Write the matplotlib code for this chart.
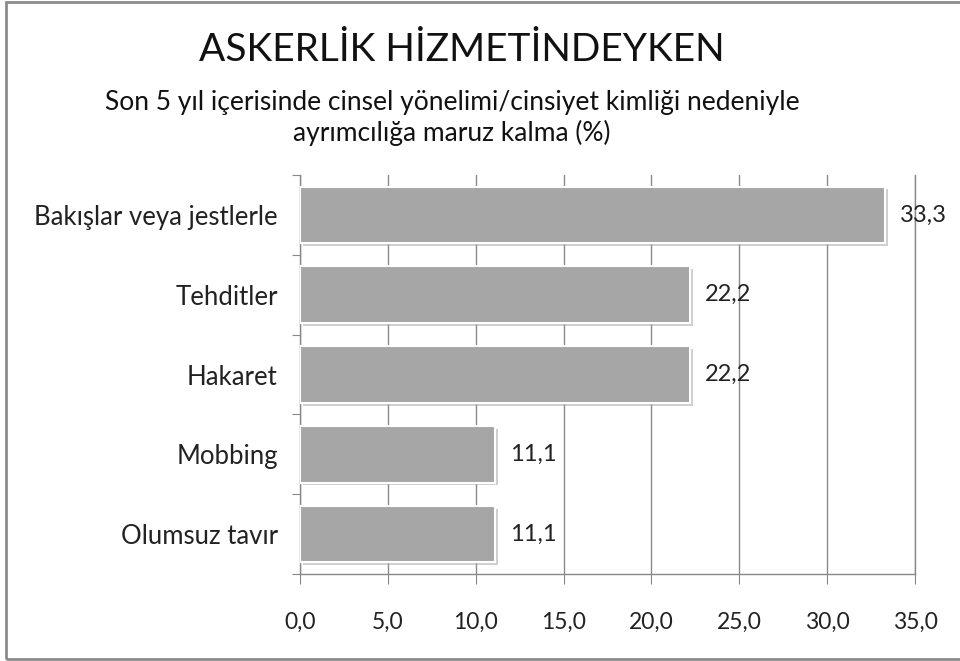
import matplotlib.pyplot as plt
import matplotlib.patheffects as pe
from matplotlib.patches import Rectangle

# data
categories = ['Bakışlar veya jestlerle', 'Tehditler', 'Hakaret', 'Mobbing', 'Olumsuz tavır']
values = [33.3, 22.2, 22.2, 11.1, 11.1]
xticks = [0, 5, 10, 15, 20, 25, 30, 35]

title = 'ASKERLİK HİZMETİNDEYKEN'
subtitle = 'Son 5 yıl içerisinde cinsel yönelimi/cinsiyet kimliği nedeniyle\nayrımcılığa maruz kalma (%)'

plt.rcParams['font.family'] = ['Lato', 'DejaVu Sans']

fig = plt.figure(figsize=(9.6, 6.61), dpi=100)
ax = fig.add_axes([0.3125, 0.1316, 0.6406, 0.6036])

# outer frame
fig.patches.append(Rectangle((6 / 960, 2 / 661), 1.0, 657 / 661, transform=fig.transFigure,
                             fill=False, edgecolor='#8c8c8c', linewidth=2, clip_on=False))

ypos = list(range(len(categories)))
bars = ax.barh(ypos, values, height=0.71, color='#a6a6a6', edgecolor='white', linewidth=1.5, zorder=3)
for b in bars:
    b.set_path_effects([pe.SimplePatchShadow(offset=(2, -2), shadow_rgbFace='#b0b0b0', alpha=0.6), pe.Normal()])

for y, v in zip(ypos, values):
    ax.text(v + 0.85, y, f'{v:.1f}'.replace('.', ','), va='center', ha='left', fontsize=17,
            color='#222222', zorder=4)

ax.set_ylim(len(categories) - 0.5, -0.5)
ax.set_xlim(0, 35)
ax.set_xticks(xticks)
ax.set_xticklabels([f'{t:.1f}'.replace('.', ',') for t in xticks], fontsize=16.5, color='#222222')

# y ticks at category boundaries, labels centred
ax.set_yticks([i - 0.5 for i in range(len(categories) + 1)])
ax.set_yticklabels([])
ax.set_yticks(ypos, minor=True)
ax.set_yticklabels(categories, minor=True, fontsize=18.5, color='#222222')
ax.tick_params(axis='y', which='minor', length=0, pad=16)
ax.tick_params(axis='y', which='major', length=6, color='#888888', direction='out')
ax.tick_params(axis='x', length=7, color='#888888', direction='out', pad=20)

ax.grid(axis='x', color='#8a8a8a', linewidth=1, zorder=0)
ax.axvline(35, color='#8a8a8a', linewidth=1, zorder=0, clip_on=False)
ax.set_axisbelow(True)
for s in ['top', 'right']:
    ax.spines[s].set_visible(False)
for s in ['left', 'bottom']:
    ax.spines[s].set_color('#888888')
    ax.spines[s].set_linewidth(1)

fig.text(462 / 960, 1 - 50 / 661, title, ha='center', va='center', fontsize=28, color='#111111')
fig.text(452 / 960, 1 - 118 / 661, subtitle, ha='center', va='center', fontsize=19, color='#111111',
         linespacing=1.2)

fig.savefig('out.png', dpi=100)
